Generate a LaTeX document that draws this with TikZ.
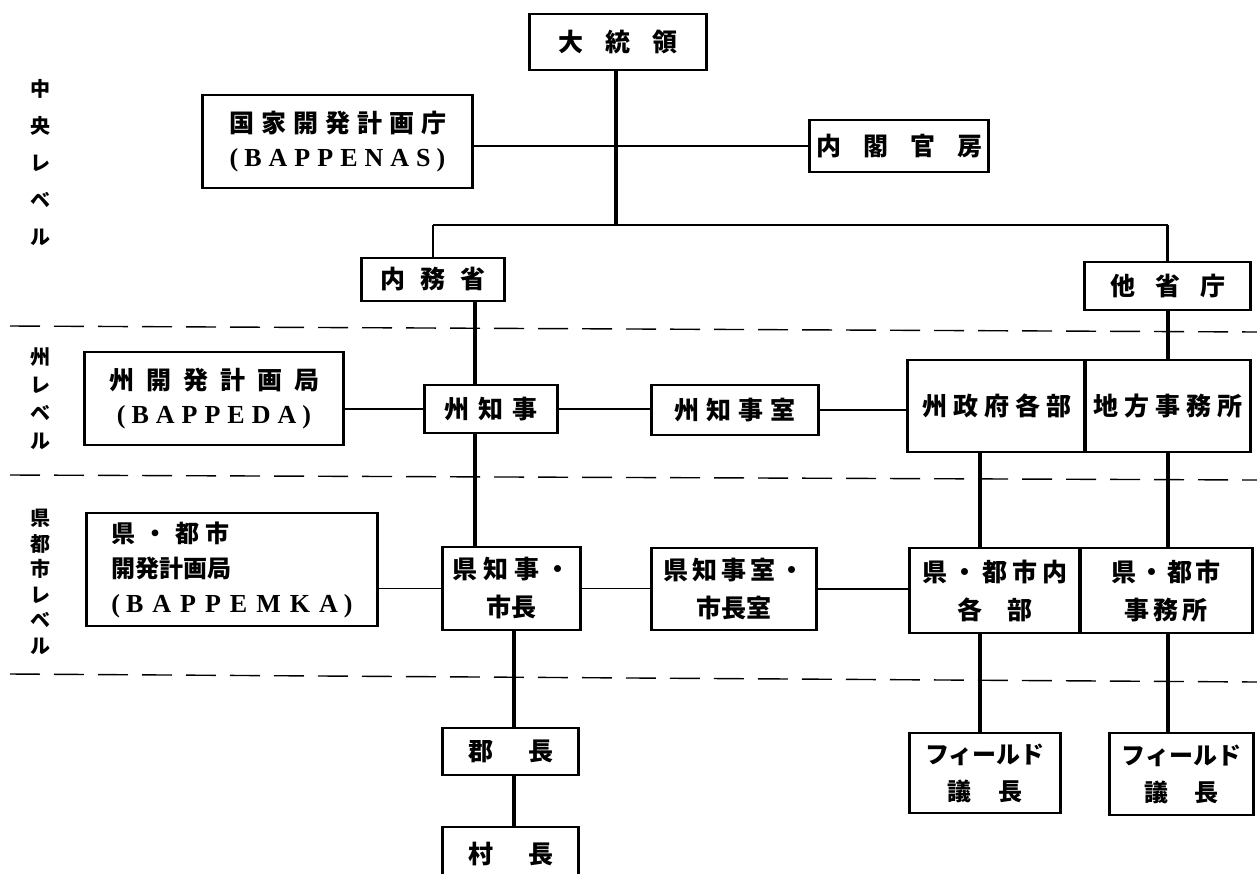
\documentclass[tikz,border=0pt]{standalone}
\usepackage{fontspec}
\setmainfont{Noto Sans CJK JP}
\newfontfamily\lat{Liberation Serif}
\newcommand\sk[1]{\kern#1pt\relax}
\begin{document}
\begin{tikzpicture}[x=1pt,y=-1pt,
  box/.style={draw,line width=1.3pt,fill=white,inner sep=0pt,align=center,font=\bfseries\fontsize{25}{34}\selectfont},
  latin/.style={font=\lat\bfseries\fontsize{26}{34}\selectfont},
  side/.style={line width=3pt},
  hline/.style={line width=1.3pt},
  mline/.style={line width=2.2pt},
  vline/.style={line width=3.5pt},
  dline/.style={line width=1.4pt,dash pattern=on 30pt off 14pt},
  lvl/.style={font=\bfseries\fontsize{20}{#1}\selectfont,align=center,inner sep=0pt}
]
\useasboundingbox (0,0) rectangle (1257,873);

% separators
\draw[dline] (10,326) -- (1257,332);
\draw[dline] (10,475) -- (1257,480);
\draw[dline] (10,674) -- (1257,682);

% level labels
\node[lvl=37] (lv1) at (40,163) {中\\央\\レ\\ベ\\ル};
\node[lvl=28] (lv2) at (40,399) {州\\レ\\ベ\\ル};
\node[lvl=25.5] (lv3) at (40,582) {県\\都\\市\\レ\\ベ\\ル};

% central level
\node[box,minimum width=176pt,minimum height=56pt] (pres) at (618,42) {大\sk{22}統\sk{22}領};
\node[box,minimum width=269pt,minimum height=93pt] (bappenas) at (337.5,141.5)
  {国\sk{7}家\sk{7}開\sk{7}発\sk{7}計\sk{7}画\sk{7}庁\\
   {\lat\bfseries\fontsize{26}{34}\selectfont (\sk{6}B\sk{7}A\sk{7}P\sk{7}P\sk{7}E\sk{7}N\sk{7}A\sk{7}S\sk{6})}};
\node[box,minimum width=178pt,minimum height=52pt] (naikaku) at (899,146) {内\sk{22}閣\sk{22}官\sk{22}房};
\node[box,minimum width=142pt,minimum height=43pt] (naimu) at (433,279.5) {内\sk{15}務\sk{15}省};
\node[box,minimum width=165pt,minimum height=48pt] (tasho) at (1167.5,286) {他\sk{20}省\sk{20}庁};

% state level
\node[box,minimum width=258pt,minimum height=93pt] (bappeda) at (214,398.5)
  {州\sk{12}開\sk{12}発\sk{12}計\sk{12}画\sk{12}局\\
   {\lat\bfseries\fontsize{26}{34}\selectfont (\sk{6}B\sk{7}A\sk{7}P\sk{7}P\sk{7}E\sk{7}D\sk{7}A\sk{6})}};
\node[box,minimum width=132pt,minimum height=48pt] (shuchiji) at (491,409) {州\sk{9}知\sk{9}事};
\node[box,minimum width=166pt,minimum height=50pt] (shuchijishitsu) at (735,410) {州\sk{7}知\sk{7}事\sk{7}室};
\node[box,minimum width=177pt,minimum height=92pt] (shuseifu) at (996.5,406) {州\sk{6}政\sk{6}府\sk{6}各\sk{6}部};
\node[box,minimum width=165pt,minimum height=92pt] (chiho) at (1167.5,406) {地\sk{6}方\sk{6}事\sk{6}務\sk{6}所};

% prefecture / city level
\node[box,minimum width=290pt,minimum height=113pt,align=left,font=\bfseries\fontsize{24}{35}\selectfont] (bappemka) at (232,569.5)
  {県\sk{8}・\sk{8}都\sk{6}市\\
   開発計画局\\
   {\lat\bfseries\fontsize{26}{35}\selectfont (\sk{6}B\sk{9}A\sk{9}P\sk{9}P\sk{9}E\sk{9}M\sk{9}K\sk{9}A\sk{6})}};
\node[box,minimum width=137pt,minimum height=83pt,font=\bfseries\fontsize{25}{38}\selectfont] (kenchiji) at (511.5,588.5) {県\sk{6}知\sk{6}事\sk{6}・\\市長};
\node[box,minimum width=164pt,minimum height=82pt,font=\bfseries\fontsize{25}{38}\selectfont] (kenchijishitsu) at (734,589) {県\sk{4}知\sk{4}事\sk{4}室\sk{4}・\\市長室};
\node[box,minimum width=170pt,minimum height=85pt,font=\bfseries\fontsize{25}{38}\selectfont] (kenbu) at (995,590.5) {県\sk{5}・\sk{5}都\sk{5}市\sk{5}内\\各\sk{25}部};
\node[box,minimum width=172pt,minimum height=85pt,font=\bfseries\fontsize{25}{38}\selectfont] (kenjimu) at (1166,590.5) {県\sk{3}・\sk{3}都\sk{3}市\\事\sk{4}務\sk{4}所};

% lower
\node[box,minimum width=135pt,minimum height=47pt] (gun) at (510.5,751.5) {郡\sk{35}長};
\node[box,minimum width=135pt,minimum height=53pt] (son) at (510.5,853.5) {村\sk{35}長};
\node[box,minimum width=150pt,minimum height=80pt,font=\bfseries\fontsize{24}{37}\selectfont] (field1) at (985,773) {フィールド\\議\sk{28}長};
\node[box,minimum width=143pt,minimum height=82pt,font=\bfseries\fontsize{24}{37}\selectfont] (field2) at (1181.5,774) {フィールド\\議\sk{26}長};

% heavy side strokes
\foreach \n in {pres,bappenas,naikaku,naimu,tasho,bappeda,shuchiji,shuchijishitsu,shuseifu,chiho,bappemka,kenchiji,kenchijishitsu,kenbu,kenjimu,gun,son,field1,field2}
  \draw[side] (\n.north west) -- (\n.south west) (\n.north east) -- (\n.south east);

% column coordinates
\coordinate (hbar) at (616,225);
\coordinate (c1) at (475,0);
\coordinate (c2) at (514,0);
\coordinate (c3) at (980,0);
\coordinate (c4) at (1168,0);

% connectors
\draw[vline] (pres.south -| hbar) -- (hbar);
\draw[hline] (bappenas.east |- naikaku.west) -- (naikaku.west);
\draw[hline] (naimu.north |- hbar) -- (tasho.north |- hbar);
\draw[mline] (naimu.north |- hbar) -- (naimu.north);
\draw[mline] (tasho.north |- hbar) -- (tasho.north);

\draw[vline] (naimu.south -| c1) -- (shuchiji.north -| c1);
\draw[vline] (shuchiji.south -| c1) -- (kenchiji.north -| c1);
\draw[vline] (kenchiji.south -| c2) -- (gun.north -| c2);
\draw[vline] (gun.south -| c2) -- (son.north -| c2);
\draw[vline] (tasho.south -| c4) -- (chiho.north -| c4);
\draw[vline] (shuseifu.south -| c3) -- (kenbu.north -| c3);
\draw[vline] (chiho.south -| c4) -- (kenjimu.north -| c4);
\draw[vline] (kenbu.south -| c3) -- (field1.north -| c3);
\draw[vline] (kenjimu.south -| c4) -- (field2.north -| c4);

\draw[hline] (bappeda.east |- shuchiji.west) -- (shuchiji.west);
\draw[hline] (shuchiji.east) -- (shuchiji.east -| shuchijishitsu.west);
\draw[hline] (shuchijishitsu.east) -- (shuchijishitsu.east -| shuseifu.west);
\draw[hline] (bappemka.east |- kenchiji.west) -- (kenchiji.west);
\draw[hline] (kenchiji.east) -- (kenchiji.east -| kenchijishitsu.west);
\draw[hline] (kenchijishitsu.east) -- (kenchijishitsu.east -| kenbu.west);
\end{tikzpicture}
\end{document}
